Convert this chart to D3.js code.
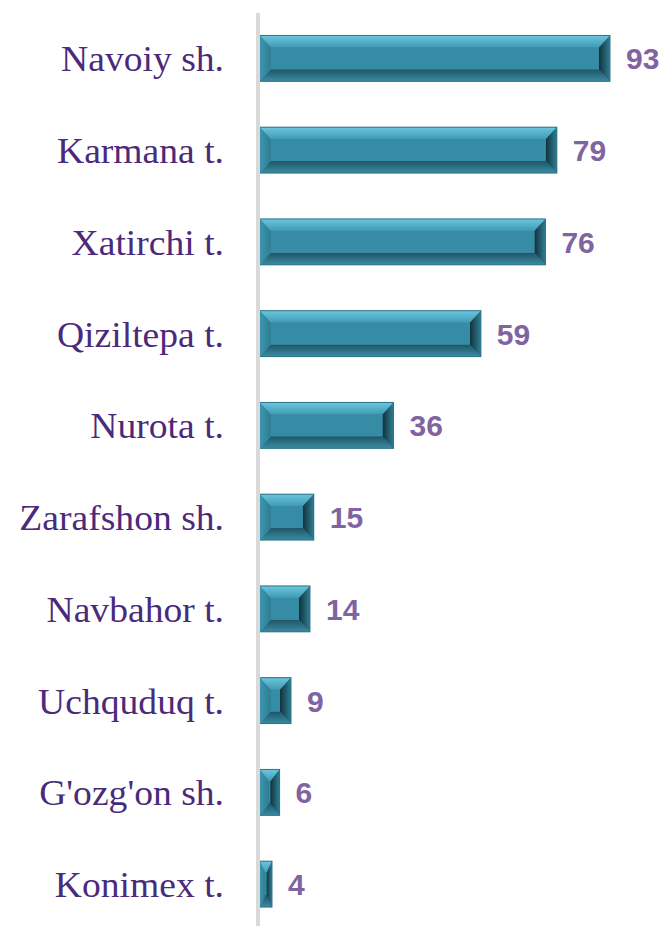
<!DOCTYPE html>
<html><head><meta charset="utf-8">
<script src="https://cdn.jsdelivr.net/npm/d3@7"></script>
<style>html,body{margin:0;padding:0;background:#fff;}svg{display:block;}</style>
</head><body>
<script>
const categories = ["Navoiy sh.","Karmana t.","Xatirchi t.","Qiziltepa t.","Nurota t.","Zarafshon sh.","Navbahor t.","Uchquduq t.","G'ozg'on sh.","Konimex t."];
const values = [93,79,76,59,36,15,14,9,6,4];

const W = 663, H = 926;
const svg = d3.select("body").append("svg").attr("width", W).attr("height", H);

const x = d3.scaleLinear().domain([0, 93]).range([256.8, 610]);
const y = d3.scaleBand().domain(categories).range([12.5, 930]).paddingInner(0.5).paddingOuter(0.25);

const defs = svg.append("defs");
const gTop = defs.append("linearGradient").attr("id","gTop").attr("x1",0).attr("y1",0).attr("x2",0).attr("y2",1);
gTop.append("stop").attr("offset","0%").attr("stop-color","#6cc6de");
gTop.append("stop").attr("offset","100%").attr("stop-color","#3f9ab3");
const gRight = defs.append("linearGradient").attr("id","gRight").attr("x1",0).attr("y1",0).attr("x2",1).attr("y2",0);
gRight.append("stop").attr("offset","0%").attr("stop-color","#12313b");
gRight.append("stop").attr("offset","100%").attr("stop-color","#2f7f95");
const gBot = defs.append("linearGradient").attr("id","gBot").attr("x1",0).attr("y1",0).attr("x2",0).attr("y2",1);
gBot.append("stop").attr("offset","0%").attr("stop-color","#1f5566");
gBot.append("stop").attr("offset","100%").attr("stop-color","#3a8ca3");
const gLeft = defs.append("linearGradient").attr("id","gLeft").attr("x1",0).attr("y1",0).attr("x2",1).attr("y2",0);
gLeft.append("stop").attr("offset","0%").attr("stop-color","#3c97b0");
gLeft.append("stop").attr("offset","100%").attr("stop-color","#2e7c92");

const bars = svg.append("g").selectAll("g").data(categories).join("g");
bars.each(function(c, i){
  const g = d3.select(this);
  const x0 = x(0), x1 = x(values[i]);
  const y0 = y(c), h = y.bandwidth(), y1 = y0 + h;
  const w = x1 - x0;
  const bx = Math.min(11, (w - 3) / 2 - 0.5);
  const by = Math.min(12, h / 2 - 2);
  const ix0 = x0 + 3 + bx, ix1 = x1 - bx, iy0 = y0 + by, iy1 = y1 - by;
  const pts = a => a.map(p => p.join(",")).join(" ");
  const L = x0 + 3;
  g.append("rect").attr("x", x0).attr("y", y0).attr("width", w).attr("height", h).attr("fill", "#378ca5");
  g.append("polygon").attr("points", pts([[L,y0],[x1,y0],[ix1,iy0],[ix0,iy0]])).attr("fill","url(#gTop)");
  g.append("polygon").attr("points", pts([[L,y1],[x1,y1],[ix1,iy1],[ix0,iy1]])).attr("fill","url(#gBot)");
  g.append("polygon").attr("points", pts([[L,y0],[ix0,iy0],[ix0,iy1],[L,y1]])).attr("fill","url(#gLeft)");
  g.append("polygon").attr("points", pts([[x1,y0],[ix1,iy0],[ix1,iy1],[x1,y1]])).attr("fill","url(#gRight)");
  g.append("rect").attr("x", ix0).attr("y", iy0).attr("width", Math.max(0, ix1 - ix0)).attr("height", iy1 - iy0).attr("fill", "#378ca5");
  g.append("rect").attr("x", x0).attr("y", y0).attr("width", w).attr("height", h).attr("fill", "none").attr("stroke", "#2a7487").attr("stroke-width", 1);
});

// value labels
svg.append("g").selectAll("text").data(categories).join("text")
  .attr("x", (c, i) => x(values[i]) + 16)
  .attr("y", c => y(c) + y.bandwidth() / 2)
  .attr("dy", "0.37em")
  .attr("font-family", "'Liberation Sans', Arial, sans-serif")
  .attr("font-weight", "bold").attr("font-size", 30)
  .attr("fill", "#8064a2")
  .text((c, i) => values[i]);

// category labels (slightly widened to mimic the original font)
const sx = 1.045;
svg.append("g").attr("transform", `translate(224,0) scale(${sx},1)`)
  .selectAll("text").data(categories).join("text")
  .attr("x", 0)
  .attr("y", c => y(c) + y.bandwidth() / 2)
  .attr("dy", "0.36em")
  .attr("text-anchor", "end")
  .attr("font-family", "'Liberation Serif', 'DejaVu Serif', serif")
  .attr("font-size", 36)
  .attr("fill", "#4b2a7b")
  .text(c => c);

// axis line
svg.append("line").attr("x1", 258).attr("x2", 258).attr("y1", 13).attr("y2", H)
  .attr("stroke", "#d9d9d9").attr("stroke-width", 4);
</script>
</body></html>
